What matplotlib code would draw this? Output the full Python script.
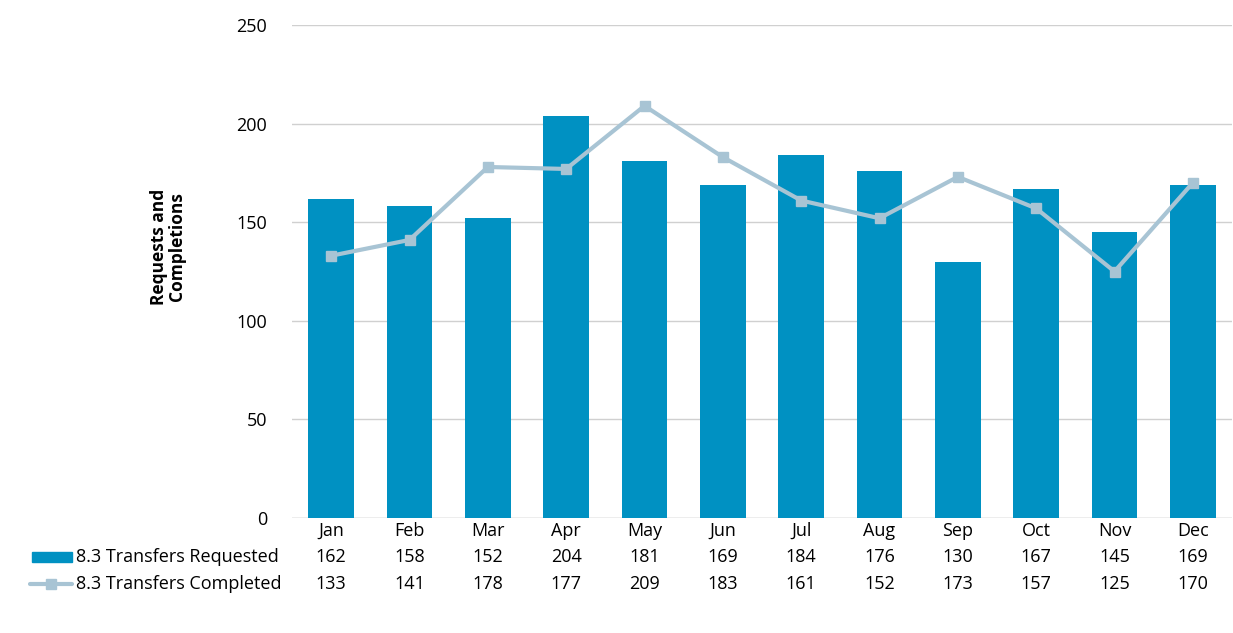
import matplotlib
matplotlib.use("Agg")
import matplotlib.pyplot as plt
import matplotlib.transforms as mtransforms
from matplotlib.patches import Rectangle
from matplotlib.lines import Line2D
import numpy as np

plt.rcParams['font.family'] = ['Open Sans', 'DejaVu Sans']

months = ["Jan", "Feb", "Mar", "Apr", "May", "Jun", "Jul", "Aug", "Sep", "Oct", "Nov", "Dec"]
requested = [162, 158, 152, 204, 181, 169, 184, 176, 130, 167, 145, 169]
completed = [133, 141, 178, 177, 209, 183, 161, 152, 173, 157, 125, 170]
series_names = ["8.3 Transfers Requested", "8.3 Transfers Completed"]

bar_color = "#0091c2"
line_color = "#a8c4d4"

fig = plt.figure(figsize=(12.33, 6.33), dpi=100)
ax = fig.add_axes([292 / 1233, 1 - 518 / 633, 940 / 1233, (518 - 25) / 633])

x = np.arange(len(months))
ax.bar(x, requested, width=0.58, color=bar_color, zorder=2)
ax.plot(x, completed, color=line_color, lw=3, marker='s', ms=7, zorder=3)

ax.set_xlim(-0.5, len(months) - 0.5)
ax.set_ylim(0, 250)
ax.set_yticks(range(0, 251, 50))
ax.grid(axis='y', color='#d0d0d0', lw=1, zorder=0)
for s in ax.spines.values():
    s.set_visible(False)
ax.tick_params(axis='y', length=0, labelsize=13, pad=18)
ax.tick_params(axis='x', length=0, labelsize=13, pad=3)
ax.set_xticks(x)
ax.set_xticklabels(months)
ax.axhline(0, color='#d0d0d0', lw=1, zorder=1)

ax.set_ylabel("Requests and\nCompletions", fontsize=12.5, fontweight='bold',
              va='center', ha='center', linespacing=1.0)
ax.yaxis.set_label_coords(-0.132, 0.55)

# data table rows below the axis
trans = mtransforms.blended_transform_factory(ax.transData, fig.transFigure)
rows = [requested, completed]
row_y = [1 - 557 / 633, 1 - 584 / 633]
for vals, yy in zip(rows, row_y):
    for xi, v in zip(x, vals):
        fig.text(xi, yy, str(v), transform=trans, ha='center', va='center', fontsize=13)

for name, yy in zip(series_names, row_y):
    fig.text(76 / 1233, yy, name, ha='left', va='center', fontsize=13)

# legend keys
fig.patches.append(Rectangle((32 / 1233, row_y[0] - 5 / 633), 40 / 1233, 10 / 633,
                             transform=fig.transFigure, color=bar_color))
fig.lines.append(Line2D([30 / 1233, 72 / 1233], [row_y[1], row_y[1]], transform=fig.transFigure,
                        color=line_color, lw=3, solid_capstyle='round'))
fig.lines.append(Line2D([51 / 1233], [row_y[1]], transform=fig.transFigure,
                        color=line_color, marker='s', ms=7))

fig.savefig("out.png", dpi=100)
